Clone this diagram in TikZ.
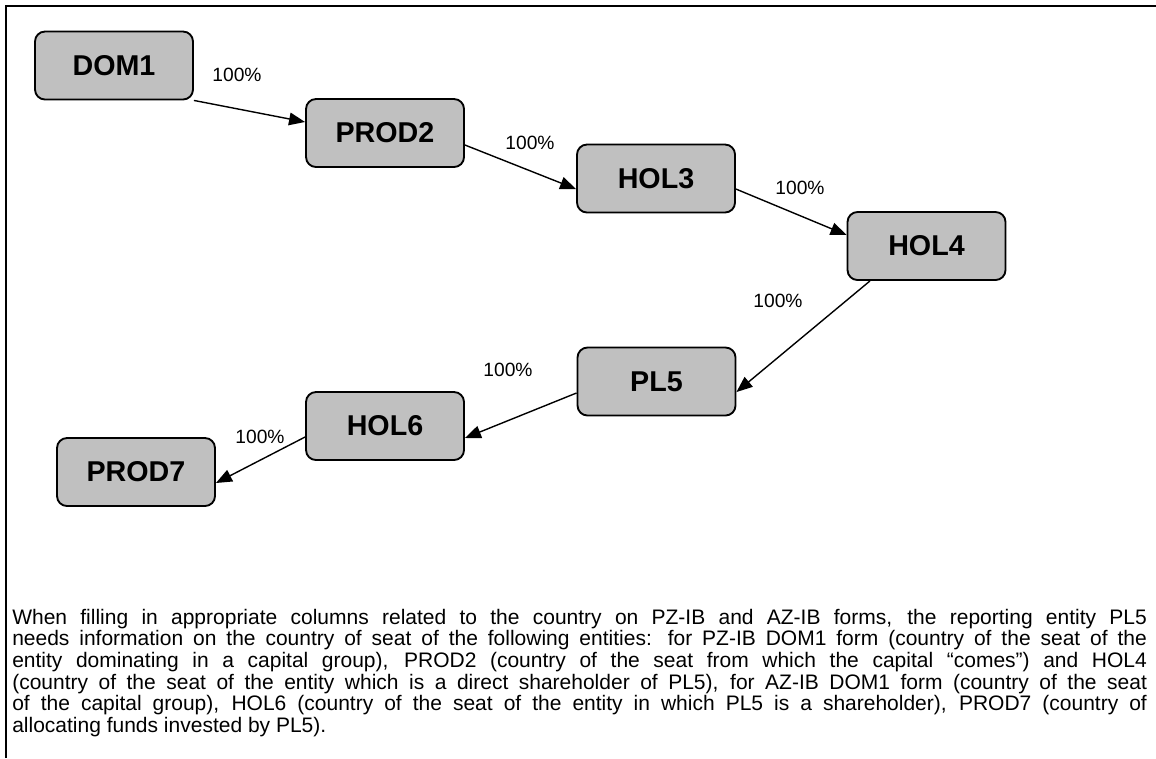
\documentclass[tikz,border=0pt]{standalone}
\usepackage{fontspec}
\setmainfont{Liberation Sans}
\usetikzlibrary{arrows.meta}
\definecolor{boxgray}{RGB}{192,192,192}
\begin{document}
\begin{tikzpicture}[x=0.75pt,y=-0.75pt,
  entity/.style={draw=black, line width=1.4pt, fill=boxgray, rounded corners=7.5pt,
    minimum width=118.5pt, minimum height=51pt, inner sep=0pt,
    font=\fontsize{21.5}{24}\selectfont\bfseries},
  pct/.style={inner sep=0pt, font=\fontsize{14.4}{17}\selectfont},
  link/.style={line width=1.05pt, -{Triangle[length=12pt,width=9.5pt]}},
  frame/.style={line width=1.5pt}]
\useasboundingbox (0,0) rectangle (1156,758);
\draw[frame] (6,758) -- (6,6) -- (1157,6);

\node[entity] (dom1)  at (114,65.5)   {DOM1};
\node[entity] (prod2) at (385,133)    {PROD2};
\node[entity] (hol3)  at (656,178.5)  {HOL3};
\node[entity] (hol4)  at (926.5,246)  {HOL4};
\node[entity] (pl5)   at (656.5,381.5){PL5};
\node[entity] (hol6)  at (385,426)    {HOL6};
\node[entity] (prod7) at (136,472)    {PROD7};

\draw[link] (dom1.south east) -- ([yshift=8.25pt]prod2.west);
\draw[link] ([yshift=-9pt]prod2.east) -- ([yshift=-7.9pt]hol3.west);
\draw[link] ([yshift=-7.9pt]hol3.east) -- ([yshift=8.25pt]hol4.west);
\draw[link] ([xshift=-42.4pt]hol4.south) -- ([yshift=-7.9pt]pl5.east);
\draw[link] ([yshift=-8.6pt]pl5.west) -- ([yshift=-9pt]hol6.east);
\draw[link] ([yshift=-8.25pt]hol6.west) -- ([yshift=-8.25pt]prod7.east);

\node[pct] (l1) at (237,75)  {100\%};
\node[pct] (l2) at (530,143) {100\%};
\node[pct] (l3) at (800,188) {100\%};
\node[pct] (l4) at (778,301) {100\%};
\node[pct] (l5) at (508,370) {100\%};
\node[pct] (l6) at (260,437) {100\%};

\node[anchor=base west, inner sep=0pt, text width=851pt, align=justify,
  font=\fontsize{15.75}{16.3}\selectfont] (txt) at (12,624)
{When filling in appropriate columns related to the country on PZ-IB and AZ-IB forms, the reporting entity PL5\linebreak
needs information on the country of seat of the following entities: for PZ-IB DOM1 form (country of the seat of the\linebreak
entity dominating in a capital group), PROD2 (country of the seat from which the capital “comes”) and HOL4\linebreak
(country of the seat of the entity which is a direct shareholder of PL5), for AZ-IB DOM1 form (country of the seat\linebreak
of the capital group), HOL6 (country of the seat of the entity in which PL5 is a shareholder), PROD7 (country of\linebreak
allocating funds invested by PL5).};
\end{tikzpicture}
\end{document}
